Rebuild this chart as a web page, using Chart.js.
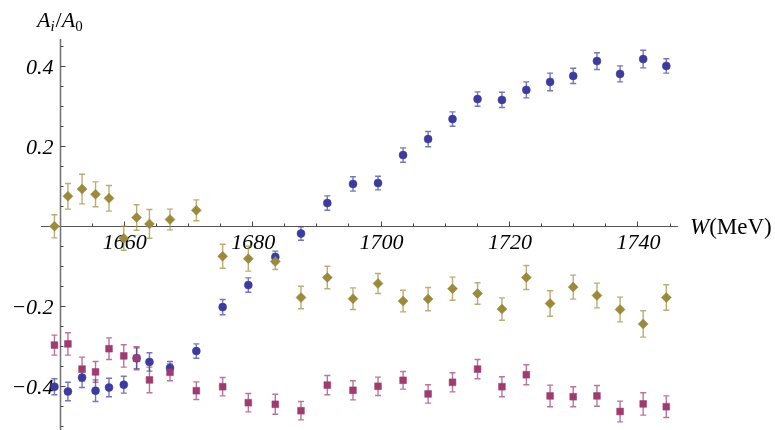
<!DOCTYPE html>
<html><head><meta charset="utf-8">
<script src="https://cdn.jsdelivr.net/npm/chart.js@4.4.0/dist/chart.umd.min.js"></script>
<style>html,body{margin:0;padding:0;background:#fff;overflow:hidden}#wrap{position:relative;width:775px;height:430px}</style>
</head><body><div id="wrap"><canvas id="c"></canvas></div>
<script>
// ---- data (W in MeV) ----
const energies = [1649.2,1651.3,1653.5,1655.6,1657.7,1660.0,1662.0,1664.0,1667.2,1671.3,1675.4,1679.4,1683.6,1687.6,1691.7,1695.7,1699.6,1703.5,1707.4,1711.2,1715.1,1718.9,1722.7,1726.4,1730.0,1733.7,1737.3,1740.9,1744.5];
const blueValues = [-0.401,-0.413,-0.378,-0.411,-0.403,-0.396,-0.330,-0.339,-0.354,-0.312,-0.202,-0.147,-0.077,-0.018,0.058,0.106,0.108,0.178,0.218,0.268,0.318,0.316,0.341,0.361,0.376,0.413,0.381,0.418,0.401];
const blueErrors = [0.020,0.023,0.025,0.027,0.023,0.021,0.026,0.023,0.016,0.018,0.019,0.018,0.015,0.017,0.018,0.018,0.017,0.018,0.019,0.018,0.018,0.019,0.020,0.022,0.019,0.021,0.020,0.022,0.018];
const goldValues = [0.000,0.075,0.093,0.080,0.070,-0.030,0.022,0.006,0.017,0.040,-0.075,-0.081,-0.088,-0.178,-0.128,-0.181,-0.143,-0.187,-0.182,-0.156,-0.168,-0.207,-0.128,-0.193,-0.152,-0.173,-0.208,-0.244,-0.178];
const goldErrors = [0.029,0.032,0.037,0.031,0.032,0.030,0.032,0.036,0.026,0.026,0.030,0.031,0.020,0.028,0.028,0.027,0.025,0.027,0.029,0.029,0.027,0.028,0.030,0.032,0.030,0.031,0.031,0.033,0.032];
const magentaValues = [-0.297,-0.294,-0.357,-0.364,-0.306,-0.324,-0.330,-0.384,-0.365,-0.411,-0.401,-0.441,-0.445,-0.461,-0.397,-0.410,-0.400,-0.385,-0.419,-0.390,-0.357,-0.401,-0.371,-0.424,-0.426,-0.424,-0.463,-0.444,-0.451];
const magentaErrors = [0.025,0.028,0.030,0.026,0.027,0.028,0.029,0.032,0.021,0.022,0.023,0.023,0.025,0.023,0.024,0.024,0.023,0.022,0.023,0.024,0.024,0.025,0.025,0.027,0.025,0.026,0.026,0.028,0.027];
const xTickLabels = [1660,1680,1700,1720,1740];
const yTickLabels = [-0.4,-0.2,0.2,0.4];

function pts(vals, errs){ return energies.map((w,i)=>({x:w,y:vals[i],e:errs[i]})); }

const SERIF = '"Liberation Serif","Times New Roman",serif';

const axesPlugin = {
  id:'mmaAxes',
  beforeDatasetsDraw(chart){
    const ctx = chart.ctx, xs = chart.scales.x, ys = chart.scales.y;
    const X = v => xs.getPixelForValue(v), Y = v => ys.getPixelForValue(v);
    const ax = Math.round(X(1650)) + 0.5, ay = Math.round(Y(0)) + 0.5;
    ctx.save();
    // axes lines
    ctx.strokeStyle = '#555'; ctx.lineWidth = 1.2;
    ctx.beginPath(); ctx.moveTo(X(1647.1), ay); ctx.lineTo(X(1746.3), ay); ctx.stroke();
    ctx.strokeStyle = '#777'; ctx.lineWidth = 1.6;
    ctx.beginPath(); ctx.moveTo(ax, Y(0.468)); ctx.lineTo(ax, Y(-0.52)); ctx.stroke();
    // x ticks (upward)
    ctx.strokeStyle = '#444'; ctx.lineWidth = 1;
    for (let w = 1655; w <= 1745; w += 5){
      const major = (w % 20 === 0);
      const px = Math.round(X(w)) + 0.5;
      ctx.beginPath(); ctx.moveTo(px, ay); ctx.lineTo(px, ay - (major ? 5 : 3)); ctx.stroke();
    }
    // y ticks (rightward)
    for (let k = -10; k <= 9; k++){
      if (k === 0) continue;
      const v = k * 0.05;
      const major = (k % 4 === 0);
      const py = Math.round(Y(v)) + 0.5;
      ctx.beginPath(); ctx.moveTo(ax, py); ctx.lineTo(ax + (major ? 5 : 3), py); ctx.stroke();
    }
    // tick labels
    ctx.fillStyle = '#000';
    ctx.font = 'italic 22px ' + SERIF;
    ctx.textAlign = 'center'; ctx.textBaseline = 'alphabetic';
    xTickLabels.forEach(w => ctx.fillText(String(w), X(w) + 1, ay + 22));
    ctx.textAlign = 'right';
    yTickLabels.forEach(v => {
      const s = (v < 0 ? '\u2212' : '') + Math.abs(v).toFixed(1);
      ctx.fillText(s, ax - 7, Y(v) + 7.5);
    });
    // y label A_i/A_0
    ctx.textAlign = 'left';
    let x = 37;
    const seg = (t, f, dy) => { ctx.font = f; ctx.fillText(t, x, dy); x += ctx.measureText(t).width; };
    seg('A', 'italic 22px ' + SERIF, 27);
    seg('i', 'italic 15px ' + SERIF, 31);
    x += 1;
    seg('/', '22px ' + SERIF, 27);
    seg('A', 'italic 22px ' + SERIF, 27);
    seg('0', '15px ' + SERIF, 31);
    // x label W(MeV)
    x = 690;
    seg('W', 'italic 23px ' + SERIF, 234);
    seg('(MeV)', '23px ' + SERIF, 234);
    // error bars
    chart.data.datasets.forEach(ds => {
      ctx.strokeStyle = ds.errColor; ctx.lineWidth = 1.4;
      ds.data.forEach(p => {
        const px = X(p.x), yt = Y(p.y + p.e), yb = Y(p.y - p.e);
        ctx.beginPath();
        ctx.moveTo(px, yt); ctx.lineTo(px, yb);
        ctx.moveTo(px - 3, yt); ctx.lineTo(px + 3, yt);
        ctx.moveTo(px - 3, yb); ctx.lineTo(px + 3, yb);
        ctx.stroke();
      });
    });
    ctx.restore();
  }
};

new Chart(document.getElementById('c'), {
  type:'scatter',
  data:{ datasets:[
    {label:'gold', data:pts(goldValues, goldErrors), pointStyle:'rectRot', pointRadius:5, backgroundColor:'#9c8a3c', borderColor:'#9c8a3c', borderWidth:0.5, errColor:'rgba(156,138,60,0.7)'},
    {label:'magenta', data:pts(magentaValues, magentaErrors), pointStyle:'rect', pointRadius:4.8, backgroundColor:'#9e3b70', borderColor:'#9e3b70', borderWidth:0.5, errColor:'rgba(158,59,112,0.7)'},
    {label:'blue', data:pts(blueValues, blueErrors), pointStyle:'circle', pointRadius:4, backgroundColor:'#3c3c9e', borderColor:'#3c3c9e', borderWidth:0.5, errColor:'rgba(60,60,158,0.7)'}
  ]},
  options:{
    responsive:true, maintainAspectRatio:false, animation:false,
    layout:{padding:0, autoPadding:false},
    plugins:{legend:{display:false}, tooltip:{enabled:false}},
    scales:{
      x:{type:'linear', display:false, min:1640.72, max:1761.43},
      y:{type:'linear', display:false, min:-0.50925, max:0.56575}
    }
  },
  plugins:[axesPlugin]
});
</script>
</body></html>
